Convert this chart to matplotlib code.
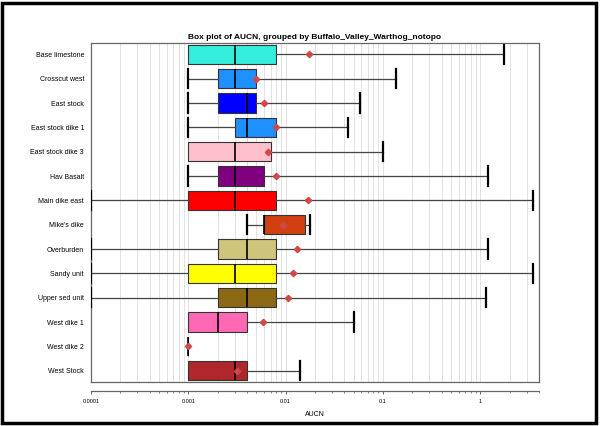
import numpy as np
import matplotlib
matplotlib.use("Agg")
from matplotlib import pyplot as plt
from matplotlib.patches import Rectangle
from matplotlib.ticker import LogLocator, NullFormatter, FixedFormatter, FixedLocator

# data (AUCN, log scale)
units = ["Base limestone", "Crosscut west", "East stock", "East stock dike 1",
         "East stock dike 3", "Hav Basalt", "Main dike east", "Mike's dike",
         "Overburden", "Sandy unit", "Upper sed unit", "West dike 1",
         "West dike 2", "West Stock"]
whis_lo = [0.001, 0.001, 0.001, 0.001, 0.001, 0.001, 0.0001, 0.004,
           0.0001, 0.0001, 0.0001, 0.001, 0.001, 0.001]
q1 = [0.001, 0.002, 0.002, 0.003, 0.001, 0.002, 0.001, 0.006,
      0.002, 0.001, 0.002, 0.001, 0.001, 0.001]
median = [0.003, 0.003, 0.004, 0.004, 0.003, 0.003, 0.003, 0.006,
          0.004, 0.003, 0.004, 0.002, 0.001, 0.003]
q3 = [0.008, 0.005, 0.005, 0.008, 0.007, 0.006, 0.008, 0.016,
      0.008, 0.008, 0.008, 0.004, 0.001, 0.004]
whis_hi = [1.75, 0.135, 0.058, 0.044, 0.1, 1.19, 3.48, 0.018,
           1.19, 3.48, 1.16, 0.05, 0.001, 0.014]
means = [0.0174, 0.005, 0.006, 0.008, 0.0066, 0.008, 0.0171, 0.0095,
         0.013, 0.0118, 0.0105, 0.0058, 0.001, 0.0032]
colors = ["#33EEDD", "#1E90FF", "#0000FF", "#1E90FF", "#FFC0CB", "#800080",
          "#FF0000", "#D04010", "#CFC57A", "#FFFF00", "#8B6914", "#FF69B4",
          "#CCCCCC", "#B0272B"]

tick_vals = [0.0001, 0.001, 0.01, 0.1, 1]
tick_labels = ["0.0001", "0.001", "0.01", "0.1", "1"]

plt.rcParams['font.family'] = ['Liberation Sans', 'DejaVu Sans']

fig = plt.figure(figsize=(6, 4.26), dpi=100)
ax = fig.add_axes([0.1517, 0.104, 0.7463, 0.794])

stats = []
for i, name in enumerate(units):
    stats.append(dict(label=name, whislo=whis_lo[i], q1=q1[i], med=median[i],
                      q3=q3[i], whishi=whis_hi[i], mean=means[i], fliers=[]))

pos = np.arange(len(units))
bp = ax.bxp(stats, positions=pos, vert=False, widths=0.8, capwidths=0.8,
            patch_artist=True, showmeans=True,
            boxprops=dict(edgecolor="#333333", linewidth=0.8),
            medianprops=dict(color="black", linewidth=1.2),
            whiskerprops=dict(color="#444444", linewidth=0.9),
            capprops=dict(color="black", linewidth=1.6),
            meanprops=dict(marker="D", markersize=3.2, markerfacecolor="#D04848",
                           markeredgecolor="#D04848"), zorder=3)
for patch, c in zip(bp["boxes"], colors):
    patch.set_facecolor(c)
for m in bp["means"]:
    m.set_zorder(5)

# no cap where the whisker has zero length
for i in range(len(units)):
    if whis_lo[i] == q1[i]:
        bp["caps"][2 * i].set_visible(False)
    if whis_hi[i] == q3[i]:
        bp["caps"][2 * i + 1].set_visible(False)

ax.set_xscale("log")
ax.set_xlim(1e-4, 4)
ax.set_ylim(len(units) - 0.55, -0.45)

# vertical grid on every decade step
ax.xaxis.set_major_locator(FixedLocator(tick_vals))
ax.xaxis.set_major_formatter(FixedFormatter(tick_labels))
ax.xaxis.set_minor_locator(LogLocator(base=10, subs=np.arange(2, 10)))
ax.xaxis.set_minor_formatter(NullFormatter())
ax.grid(True, which="both", axis="x", color="#dddddd", linewidth=0.6, zorder=0)
ax.set_axisbelow(True)

ax.tick_params(axis="x", which="major", labelsize=4, length=2.5, width=0.6,
               color="#555555", pad=3)
ax.tick_params(axis="x", which="minor", length=1.5, width=0.5, color="#555555")
ax.tick_params(axis="y", length=0, labelsize=5, pad=5)

for s in ax.spines.values():
    s.set_color("#666666")
    s.set_linewidth(0.9)
# R style offset axis line under the plot box
ax.spines["bottom"].set_position(("outward", 7))
ax.plot([0, 1], [0, 0], transform=ax.transAxes, color="#666666",
        linewidth=0.9, clip_on=False)

ax.set_xlabel("AUCN", fontsize=5, labelpad=5)
ax.set_title("Box plot of AUCN, grouped by Buffalo_Valley_Warthog_notopo",
             fontsize=6, fontweight="bold", pad=3)

fig.add_artist(Rectangle((0.004, 0.007), 0.99, 0.985, transform=fig.transFigure,
                         fill=False, edgecolor="black", linewidth=2.5))

fig.savefig("out.png", dpi=100)
